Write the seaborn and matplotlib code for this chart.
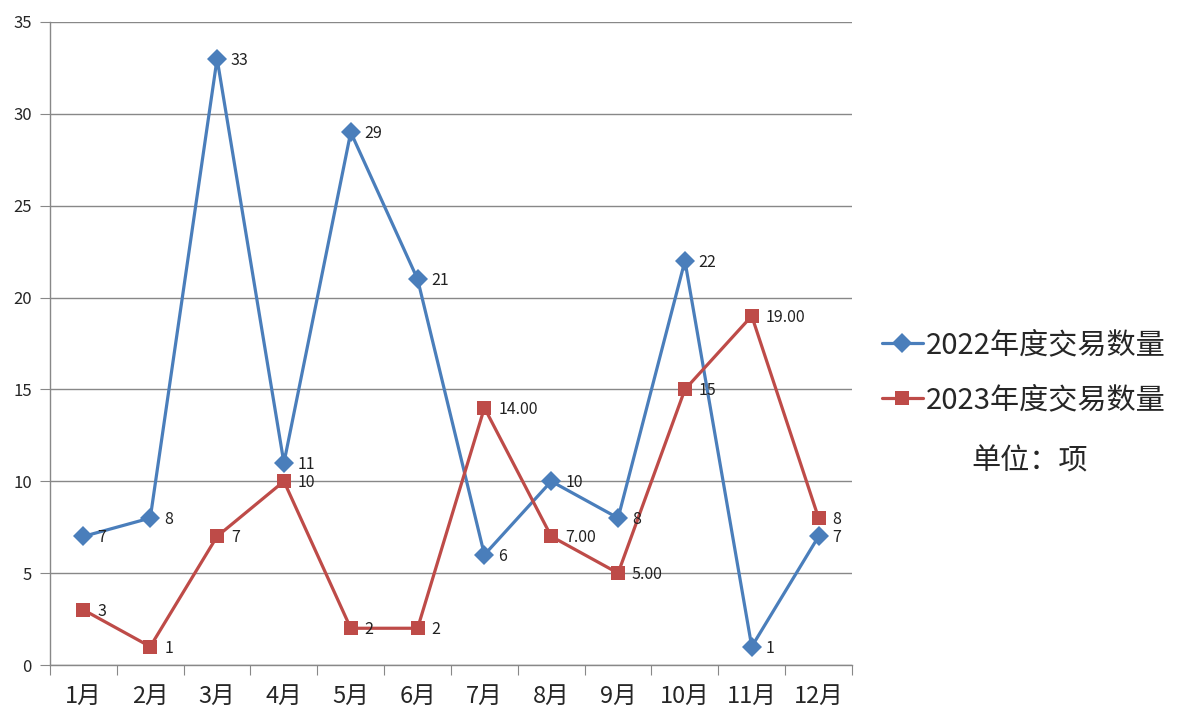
import pandas as pd
import matplotlib.pyplot as plt
import seaborn as sns

# === DATA ===
months = ['1月', '2月', '3月', '4月', '5月', '6月', '7月', '8月', '9月', '10月', '11月', '12月']
vals_2022 = [7, 8, 33, 11, 29, 21, 6, 10, 8, 22, 1, 7]
vals_2023 = [3, 1, 7, 10, 2, 2, 14, 7, 5, 15, 19, 8]
labels_2022 = ['7', '8', '33', '11', '29', '21', '6', '10', '8', '22', '1', '7']
labels_2023 = ['3', '1', '7', '10', '2', '2', '14.00', '7.00', '5.00', '15', '19.00', '8']
series_names = ['2022年度交易数量', '2023年度交易数量']
unit_text = '单位：项'

sns.set_style('white')
plt.rcParams['font.family'] = ['Noto Sans CJK SC', 'DejaVu Sans']

colors = {series_names[0]: '#4A7EBB', series_names[1]: '#BE4B48'}
markers = {series_names[0]: 'D', series_names[1]: 's'}

pos = list(range(len(months)))
df = pd.DataFrame({
    'pos': pos * 2,
    'value': vals_2022 + vals_2023,
    'series': [series_names[0]] * len(months) + [series_names[1]] * len(months),
})

fig = plt.figure(figsize=(11.79, 7.25), dpi=100)
ax = fig.add_axes([50 / 1179, 60 / 725, 802 / 1179, 643 / 725])

sns.lineplot(data=df, x='pos', y='value', hue='series', style='series',
             palette=colors, markers=markers, dashes=False, sort=False,
             linewidth=2.3, markersize=10, markeredgewidth=0, ax=ax)

# data labels
for vals, labs in [(vals_2022, labels_2022), (vals_2023, labels_2023)]:
    for x, v, t in zip(pos, vals, labs):
        ax.annotate(t, (x, v), xytext=(10, -1), textcoords='offset points',
                    va='center', ha='left', fontsize=11.5, color='#222222')

# axes styling
gray = '#888888'
ax.set_xlim(-0.5, len(months) - 0.5)
ax.set_ylim(0, 35)
ax.set_yticks(range(0, 36, 5))
ax.yaxis.grid(True, color=gray, linewidth=1)
ax.xaxis.grid(False)
ax.set_xticks([i - 0.5 for i in range(len(months) + 1)])
ax.set_xticklabels([])
ax.set_xticks(pos, minor=True)
ax.set_xticklabels(months, minor=True, fontsize=17)
ax.tick_params(axis='x', which='major', length=7, color=gray, direction='out', bottom=True)
ax.tick_params(axis='x', which='minor', length=0, pad=14, bottom=True)
ax.tick_params(axis='y', length=7, color=gray, direction='out', left=True, labelsize=12, pad=6)
for s in ['top', 'right']:
    ax.spines[s].set_visible(False)
for s in ['left', 'bottom']:
    ax.spines[s].set_color(gray)
    ax.spines[s].set_linewidth(1)
ax.set_xlabel('')
ax.set_ylabel('')

# legend
handles, labels = ax.get_legend_handles_labels()
ax.legend(handles, labels, loc='center left', bbox_to_anchor=(882 / 1179, 1 - 373 / 725),
          bbox_transform=fig.transFigure, frameon=False, fontsize=21,
          handlelength=1.4, handletextpad=0.1, labelspacing=0.85, borderpad=0,
          borderaxespad=0)
fig.text(1030 / 1179, 1 - 462 / 725, unit_text, ha='center', va='center', fontsize=21)

fig.savefig('out.png', dpi=100)
